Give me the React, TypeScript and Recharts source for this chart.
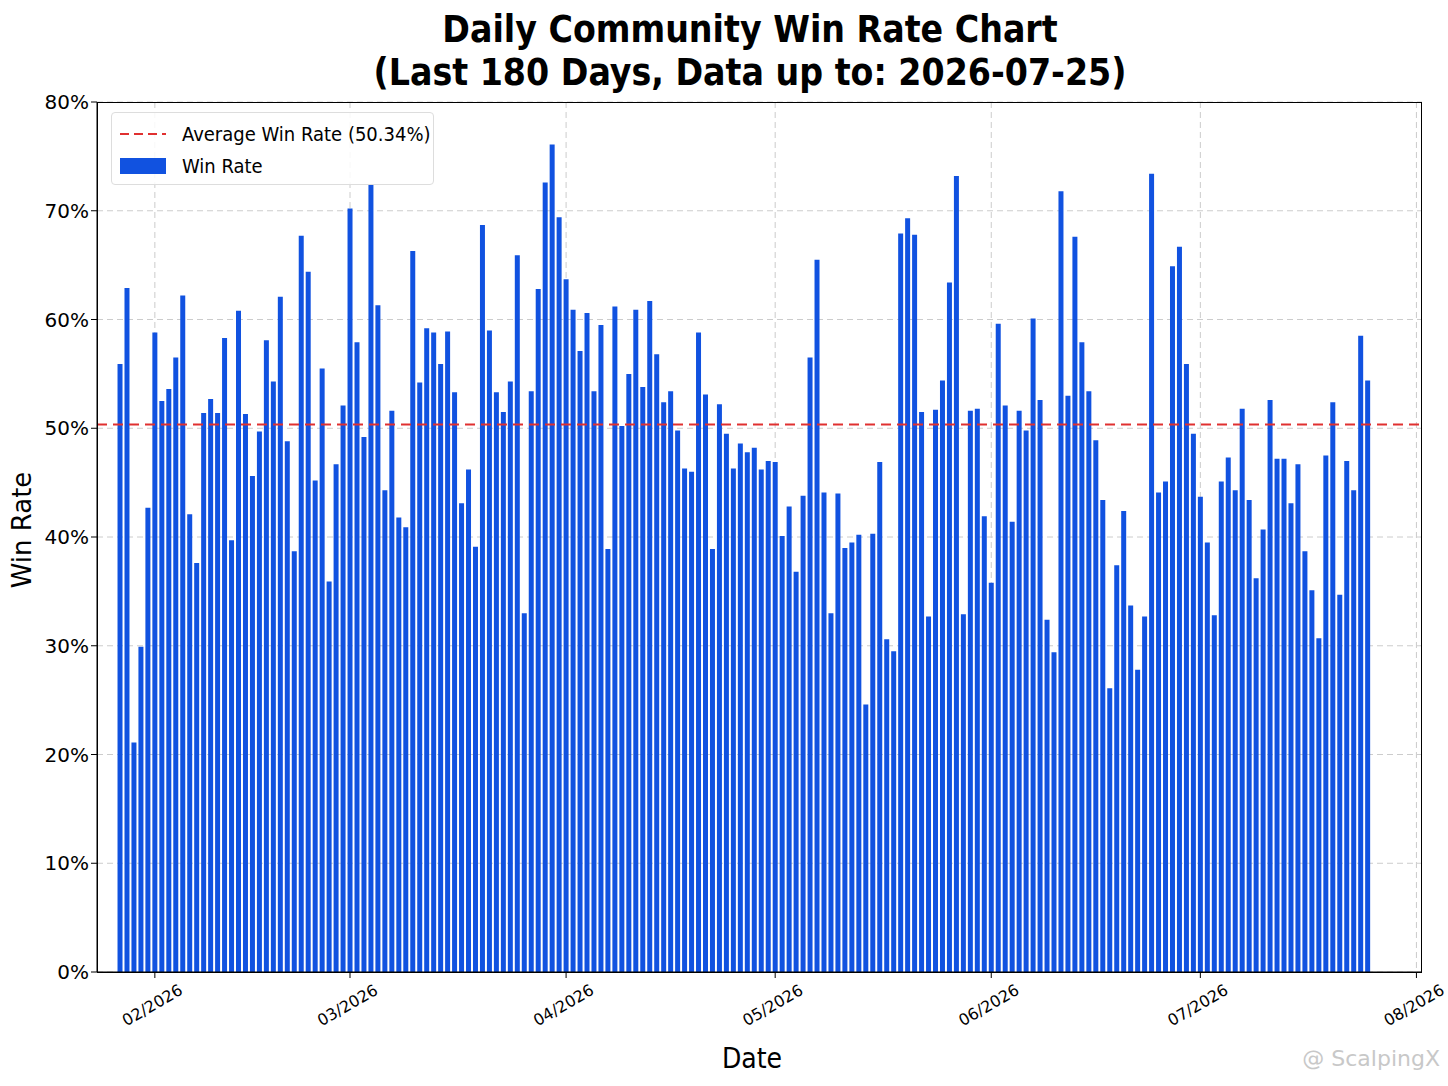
import React from "react";
import { ComposedChart, Bar, XAxis, YAxis, CartesianGrid, ReferenceLine } from "recharts";

const winRates: number[] = [
  55.9, 62.9, 21.1, 29.9, 42.7, 58.8, 52.5, 53.6, 56.5, 62.2, 42.1, 37.6, 51.4, 52.7, 51.4, 58.3, 39.7, 60.8, 51.3, 45.6,
  49.7, 58.1, 54.3, 62.1, 48.8, 38.7, 67.7, 64.4, 45.2, 55.5, 35.9,
  46.7, 52.1, 70.2, 57.9, 49.2, 72.4, 61.3, 44.3, 51.6, 41.8, 40.9, 66.3, 54.2, 59.2, 58.8, 55.9, 58.9, 53.3, 43.1,
  46.2, 39.1, 68.7, 59.0, 53.3, 51.5, 54.3, 65.9, 33.0, 53.4, 62.8,
  72.6, 76.1, 69.4, 63.7, 60.9, 57.1, 60.6, 53.4, 59.5, 38.9, 61.2, 50.2, 55.0, 60.9, 53.8, 61.7, 56.8, 52.4, 53.4,
  49.8, 46.3, 46.0, 58.8, 53.1, 38.9, 52.2, 49.5, 46.3, 48.6,
  47.8, 48.2, 46.2, 47.0, 46.9, 40.1, 42.8, 36.8, 43.8, 56.5, 65.5, 44.1, 33.0, 44.0, 39.0, 39.5, 40.2, 24.6, 40.3,
  46.9, 30.6, 29.5, 67.9, 69.3, 67.8, 51.5, 32.7, 51.7, 54.4, 63.4,
  73.2, 32.9, 51.6, 51.8, 41.9, 35.8, 59.6, 52.1, 41.4, 51.6, 49.8, 60.1, 52.6, 32.4, 29.4, 71.8, 53.0, 67.6, 57.9,
  53.4, 48.9, 43.4, 26.1, 37.4, 42.4, 33.7, 27.8, 32.7, 73.4, 44.1,
  45.1, 64.9, 66.7, 55.9, 49.5, 43.7, 39.5, 32.8, 45.1, 47.3, 44.3, 51.8, 43.4, 36.2, 40.7, 52.6, 47.2, 47.2, 43.1,
  46.7, 38.7, 35.1, 30.7, 47.5, 52.4, 34.7, 47.0, 44.3, 58.5, 54.4,
];
const averageWinRate = 50.34;
const monthTickDays = [5, 33, 64, 94, 125, 155, 186];
const monthTickLabels = ["02/2026", "03/2026", "04/2026", "05/2026", "06/2026", "07/2026", "08/2026"];
const yTicks = [0, 10, 20, 30, 40, 50, 60, 70, 80];

const data = winRates.map((v, i) => ({ day: i, rate: v }));

const font = "DejaVu Sans, sans-serif";

const XTick = (props: any) => {
  const { x, y, payload } = props;
  const idx = monthTickDays.indexOf(payload.value);
  const cy = y + 26;
  return (
    <text x={x - 2} y={cy} transform={`rotate(-30 ${x - 2} ${cy})`} textAnchor="middle" dominantBaseline="middle" fontSize={16} fontFamily={font} fill="#000">
      {monthTickLabels[idx]}
    </text>
  );
};

export default function App() {
  return (
    <div style={{ position: "absolute", left: 0, top: 0, width: 1448, height: 1086, background: "#fff", fontFamily: font }}>
      <div style={{ position: "absolute", left: 0, width: 1500, top: 8, textAlign: "center", fontSize: 37, fontWeight: "bold", lineHeight: "43px", color: "#000", fontFamily: "DejaVu Sans Condensed, DejaVu Sans, sans-serif" }}>
        Daily Community Win Rate Chart<br />(Last 180 Days, Data up to: 2026-07-25)
      </div>
      <ComposedChart width={1448} height={1086} data={data} margin={{ top: 102, right: 26, bottom: 84, left: 0 }}>
        <CartesianGrid stroke="#cccccc" strokeDasharray="6 4" verticalValues={monthTickDays} />
        <XAxis
          dataKey="day"
          type="number"
          domain={[-3.3, 186.8]}
          ticks={monthTickDays}
          tick={<XTick />}
          interval={0}
          allowDataOverflow
          stroke="#000"
          tickSize={6}
          height={30}
        />
        <YAxis
          domain={[0, 80]}
          ticks={yTicks}
          width={97}
          tickFormatter={(v: number) => `${v}%`}
          tick={{ fontSize: 20, fill: "#000", fontFamily: font }}
          stroke="#000"
          tickSize={6}
        />
        <Bar dataKey="rate" fill="#1152e0" barSize={5} isAnimationActive={false} />
        <ReferenceLine y={averageWinRate} stroke="#e03030" strokeWidth={2} strokeDasharray="10 6" />
      </ComposedChart>
      <div style={{ position: "absolute", left: 97, top: 102, width: 1325, height: 871, border: "1.5px solid #000", boxSizing: "border-box", pointerEvents: "none" }} />
      <div style={{ position: "absolute", left: 111, top: 112, width: 323, height: 73, border: "1px solid #ddd", borderRadius: 4, background: "rgba(255,255,255,0.85)", boxSizing: "border-box", fontSize: 20, color: "#000", fontFamily: "DejaVu Sans Condensed, DejaVu Sans, sans-serif" }}>
        <div style={{ position: "absolute", left: 8, top: 9, display: "flex", alignItems: "center" }}>
          <svg width={46} height={10}><line x1={0} y1={5} x2={46} y2={5} stroke="#e03030" strokeWidth={2} strokeDasharray="9 5" /></svg>
          <span style={{ marginLeft: 16 }}>Average Win Rate (50.34%)</span>
        </div>
        <div style={{ position: "absolute", left: 8, top: 41, display: "flex", alignItems: "center" }}>
          <div style={{ width: 46, height: 16, background: "#1152e0" }} />
          <span style={{ marginLeft: 16 }}>Win Rate</span>
        </div>
      </div>
      <div style={{ position: "absolute", left: 22, top: 530, transform: "translate(-50%,-50%) rotate(-90deg)", fontSize: 26, whiteSpace: "nowrap" }}>Win Rate</div>
      <div style={{ position: "absolute", left: 752, top: 1058, transform: "translate(-50%,-50%)", fontSize: 28, fontFamily: "DejaVu Sans Condensed, DejaVu Sans, sans-serif" }}>Date</div>
      <div style={{ position: "absolute", right: 8, top: 1046, fontSize: 22, color: "#c8c8c8" }}>@ ScalpingX</div>
    </div>
  );
}
